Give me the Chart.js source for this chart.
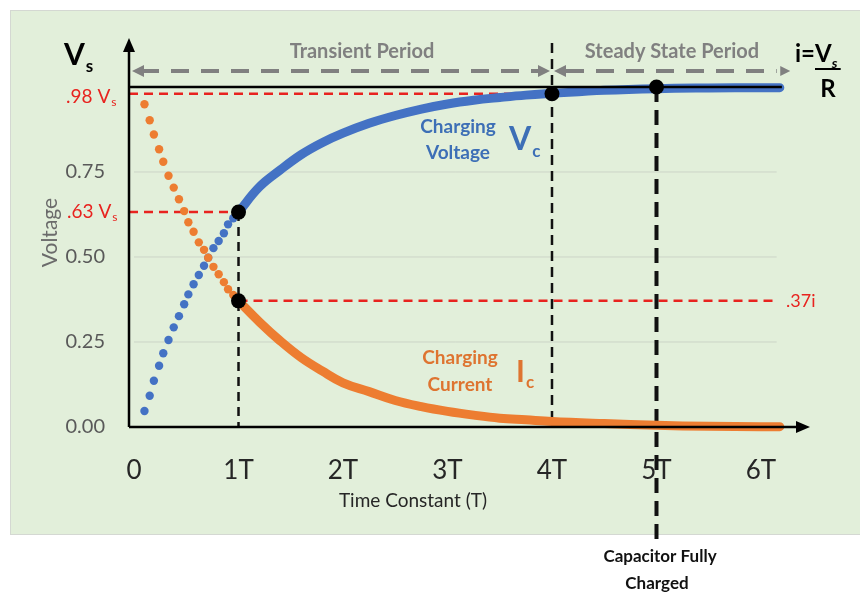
<!DOCTYPE html>
<html>
<head>
<meta charset="utf-8">
<title>RC Charging Curve</title>
<script src="https://cdn.jsdelivr.net/npm/chart.js@4.4.0/dist/chart.umd.min.js"></script>
<style>
  html, body { margin: 0; padding: 0; background: #fff; }
  #wrap { width: 860px; height: 593px; }
</style>
</head>
<body>
<div id="wrap"><canvas id="rcChart" width="860" height="593"></canvas></div>
<script>
// DATA VALUES, time in units of T
var xTicks = [0, 1, 2, 3, 4, 5, 6];
var yTicks = [0, 0.25, 0.5, 0.75];

// separate dots before 1T
var dotTimes = [0.10, 0.15, 0.19, 0.24, 0.28, 0.33, 0.38, 0.43, 0.48, 0.52, 0.57, 0.62, 0.67, 0.71, 0.76, 0.81, 0.86, 0.90, 0.95, 1.00];
var vcDots = [0.047, 0.092, 0.136, 0.180, 0.217, 0.256, 0.293, 0.326, 0.361, 0.390, 0.420, 0.447, 0.474, 0.498, 0.526, 0.547, 0.570, 0.596, 0.614, 0.632];
var icDots = [0.949, 0.902, 0.860, 0.817, 0.780, 0.739, 0.704, 0.670, 0.635, 0.602, 0.574, 0.543, 0.521, 0.498, 0.471, 0.449, 0.426, 0.405, 0.388, 0.371];

// dots after 1T run together into a band
var bandTimes = [1.0, 1.2, 1.4, 1.6, 1.8, 2.0, 2.25, 2.5, 2.75, 3.0, 3.25, 3.5, 3.75, 4.0, 4.5, 5.0, 5.5, 6.0, 6.18];
var vcBand = [0.632, 0.706, 0.756, 0.801, 0.836, 0.864, 0.893, 0.916, 0.935, 0.950, 0.961, 0.969, 0.976, 0.981, 0.990, 0.995, 0.997, 0.998, 0.998];
var icBand = [0.371, 0.309, 0.253, 0.204, 0.165, 0.130, 0.104, 0.078, 0.060, 0.046, 0.035, 0.026, 0.021, 0.016, 0.010, 0.005, 0.002, 0.001, 0.001];

// black marker dots
var markTimes = [1, 1, 4, 5];
var markValues = [0.632, 0.371, 0.98, 1.0];

const BLUE = '#4472c4';
const ORANGE = '#ed7d31';
const RED = '#e8231f';
const GREY = '#808080';

function pts(t, v) {
    return t.map((x, i) => ({x: x, y: v[i]}));
}

Chart.defaults.font.family = 'Lato, "Open Sans", sans-serif';

function line(ctx, x1, y1, x2, y2, color, width, dash) {
    ctx.save();
    ctx.strokeStyle = color;
    ctx.lineWidth = width;
    ctx.setLineDash(dash || []);
    ctx.beginPath();
    ctx.moveTo(x1, y1);
    ctx.lineTo(x2, y2);
    ctx.stroke();
    ctx.restore();
}

function tri(ctx, x, y, dir, len, half, color) {
    // dir: 'l', 'r', 'u'
    ctx.save();
    ctx.fillStyle = color;
    ctx.beginPath();
    if (dir === 'l') { ctx.moveTo(x, y); ctx.lineTo(x + len, y - half); ctx.lineTo(x + len, y + half); }
    if (dir === 'r') { ctx.moveTo(x, y); ctx.lineTo(x - len, y - half); ctx.lineTo(x - len, y + half); }
    if (dir === 'u') { ctx.moveTo(x, y); ctx.lineTo(x - half, y + len); ctx.lineTo(x + half, y + len); }
    ctx.closePath();
    ctx.fill();
    ctx.restore();
}

function txt(ctx, s, x, y, font, color, align) {
    ctx.font = font;
    ctx.fillStyle = color;
    ctx.textAlign = align || 'left';
    ctx.textBaseline = 'middle';
    ctx.fillText(s, x, y);
    return ctx.measureText(s).width;
}

// text with a subscript after it
function subTxt(ctx, main, sub, x, y, font, subFont, color, dy) {
    var w = txt(ctx, main, x, y, font, color);
    txt(ctx, sub, x + w + 1, y + dy, subFont, color);
}

// green panel behind everything
const panelPlugin = {
    id: 'panel',
    beforeDraw(chart) {
        const ctx = chart.ctx;
        ctx.save();
        ctx.fillStyle = '#ffffff';
        ctx.fillRect(0, 0, chart.width, chart.height);
        ctx.fillStyle = '#e2efda';
        ctx.fillRect(10, 10, 850, 525);
        ctx.strokeStyle = '#d4d8d2';
        ctx.lineWidth = 1;
        ctx.strokeRect(10.5, 10.5, 851, 524);
        ctx.restore();
    }
};

// lines below the data
const guidePlugin = {
    id: 'guides',
    beforeDatasetsDraw(chart) {
        const ctx = chart.ctx;
        const X = v => chart.scales.x.getPixelForValue(v);
        const Y = v => chart.scales.y.getPixelForValue(v);
        const a = chart.chartArea;

        // faint grid
        yTicks.slice(1).forEach(v => line(ctx, X(0), Y(v), X(6.15), Y(v), '#ccd5c7', 1));

        // red level lines
        line(ctx, a.left, Y(0.98), X(4), Y(0.98), RED, 2.5, [9, 6]);
        line(ctx, a.left, Y(0.632), X(1), Y(0.632), RED, 2.5, [9, 6]);
        line(ctx, X(1), Y(0.371), X(6.15), Y(0.371), RED, 2.5, [9, 6]);

        // black verticals
        line(ctx, X(1), Y(0.632), X(1), a.bottom, '#111', 2.5, [9, 6]);
        line(ctx, X(4), a.top + 5, X(4), a.bottom, '#111', 2.5, [10, 6]);
        line(ctx, X(5), Y(1), X(5), 545, '#111', 4, [15, 8]);

        // grey period arrows
        const ay = 71;
        line(ctx, a.left + 12, ay, X(4) - 12, ay, GREY, 4, [18, 12]);
        tri(ctx, a.left + 3, ay, 'l', 12, 6, GREY);
        tri(ctx, X(4) - 2, ay, 'r', 12, 6, GREY);
        line(ctx, X(4) + 14, ay, X(6.15), ay, GREY, 4, [18, 12]);
        tri(ctx, X(4) + 2, ay, 'l', 12, 6, GREY);
        tri(ctx, X(6.28), ay, 'r', 10, 5, GREY);
    }
};

// axes and labels on top
const topPlugin = {
    id: 'topLayer',
    afterDatasetsDraw(chart) {
        const ctx = chart.ctx;
        const X = v => chart.scales.x.getPixelForValue(v);
        const Y = v => chart.scales.y.getPixelForValue(v);
        const a = chart.chartArea;

        // full charge line
        line(ctx, a.left, Y(1), X(6.2), Y(1), '#000', 2.5);

        // axes with arrows
        line(ctx, a.left, a.bottom, a.left, a.top + 10, '#000', 2.5);
        tri(ctx, a.left, a.top, 'u', 14, 6, '#000');
        line(ctx, a.left, a.bottom, a.right - 10, a.bottom, '#000', 2.5);
        tri(ctx, a.right, a.bottom, 'r', 14, 6, '#000');
    },
    afterDraw(chart) {
        const ctx = chart.ctx;
        ctx.save();
        // left labels
        subTxt(ctx, 'V', 's', 64, 55, 'bold 30px Lato', 'bold 17px Lato', '#000', 12);
        subTxt(ctx, '.98 V', 's', 66, 97, '19px Lato', '12px Lato', RED, 5);
        subTxt(ctx, '.63 V', 's', 67, 212, '19px Lato', '12px Lato', RED, 5);

        // i = Vs / R
        var w1 = txt(ctx, 'i=', 795, 54, 'bold 24px Lato', '#000');
        var w2 = txt(ctx, 'V', 795 + w1, 54, 'bold 24px Lato', '#000');
        txt(ctx, 's', 795 + w1 + w2, 63, 'italic bold 14px Lato', '#000');
        line(ctx, 795 + w1, 69, 795 + w1 + w2 + 9, 69, '#000', 2);
        txt(ctx, 'R', 795 + w1 + (w2 + 9) / 2, 89, 'bold 24px Lato', '#000', 'center');

        // period titles
        txt(ctx, 'Transient Period', 362, 52, 'bold 20px Lato', GREY, 'center');
        txt(ctx, 'Steady State Period', 672, 52, 'bold 20px Lato', GREY, 'center');

        // curve labels
        txt(ctx, 'Charging', 458, 127, 'bold 19px Lato', '#3d6fb6', 'center');
        txt(ctx, 'Voltage', 458, 153, 'bold 19px Lato', '#3d6fb6', 'center');
        subTxt(ctx, 'V', 'c', 509, 140, 'bold 32px Lato', 'bold 17px Lato', '#3d6fb6', 12);

        txt(ctx, 'Charging', 460, 358, 'bold 19px Lato', '#de7430', 'center');
        txt(ctx, 'Current', 460, 385, 'bold 19px Lato', '#de7430', 'center');
        subTxt(ctx, 'I', 'c', 516, 372, 'bold 30px Lato', 'bold 17px Lato', '#de7430', 11);

        txt(ctx, '.37i', 786, 301, '18px Lato', RED);

        // x axis title sits left of the scale centre in the original
        txt(ctx, 'Time Constant (T)', 413, 501, '19px Lato', '#262626', 'center');

        // below the panel
        txt(ctx, 'Capacitor Fully', 660, 557, 'bold 17px Lato', '#111', 'center');
        txt(ctx, 'Charged', 657, 584, 'bold 17px Lato', '#111', 'center');
        ctx.restore();
    }
};

const config = {
    type: 'scatter',
    data: {
        datasets: [{
            label: 'Marks',
            data: pts(markTimes, markValues),
            pointRadius: 7.5,
            pointBackgroundColor: '#000',
            pointBorderWidth: 0,
            order: 0
        }, {
            label: 'Ic dots',
            data: pts(dotTimes, icDots),
            pointRadius: 4.2,
            pointBackgroundColor: ORANGE,
            pointBorderWidth: 0,
            order: 1
        }, {
            label: 'Ic band',
            data: pts(bandTimes, icBand),
            showLine: true,
            borderColor: ORANGE,
            borderWidth: 9,
            borderCapStyle: 'round',
            tension: 0.4,
            pointRadius: 0,
            clip: 10,
            order: 2
        }, {
            label: 'Vc dots',
            data: pts(dotTimes, vcDots),
            pointRadius: 4.2,
            pointBackgroundColor: BLUE,
            pointBorderWidth: 0,
            order: 3
        }, {
            label: 'Vc band',
            data: pts(bandTimes, vcBand),
            showLine: true,
            borderColor: BLUE,
            borderWidth: 9,
            borderCapStyle: 'round',
            tension: 0.4,
            pointRadius: 0,
            clip: 10,
            order: 4
        }]
    },
    options: {
        responsive: false,
        animation: false,
        layout: {
            padding: {left: 0, top: 38, right: 50, bottom: 71}
        },
        plugins: {
            legend: {display: false},
            tooltip: {enabled: false}
        },
        scales: {
            x: {
                type: 'linear',
                min: -0.048,
                max: 6.469,
                grid: {display: false},
                border: {display: false},
                afterBuildTicks: (axis) => { axis.ticks = xTicks.map(v => ({value: v})); },
                afterFit: (scale) => { scale.height = 95; },
                ticks: {
                    padding: 20,
                    color: '#262626',
                    font: {size: 26},
                    callback: (v) => v === 0 ? '0' : v + 'T'
                }
            },
            y: {
                min: 0,
                max: 1.144,
                grid: {display: false},
                border: {display: false},
                afterBuildTicks: (axis) => { axis.ticks = yTicks.map(v => ({value: v})); },
                afterFit: (scale) => { scale.width = 129; },
                ticks: {
                    padding: 16,
                    color: '#595959',
                    font: {size: 20},
                    callback: (v) => v.toFixed(2)
                },
                title: {
                    display: true,
                    text: 'Voltage',
                    color: '#6b6b6b',
                    font: {size: 21},
                    padding: {top: 38, bottom: 0}
                }
            }
        }
    },
    plugins: [panelPlugin, guidePlugin, topPlugin]
};

const rcChart = new Chart('rcChart', config);
</script>
</body>
</html>
